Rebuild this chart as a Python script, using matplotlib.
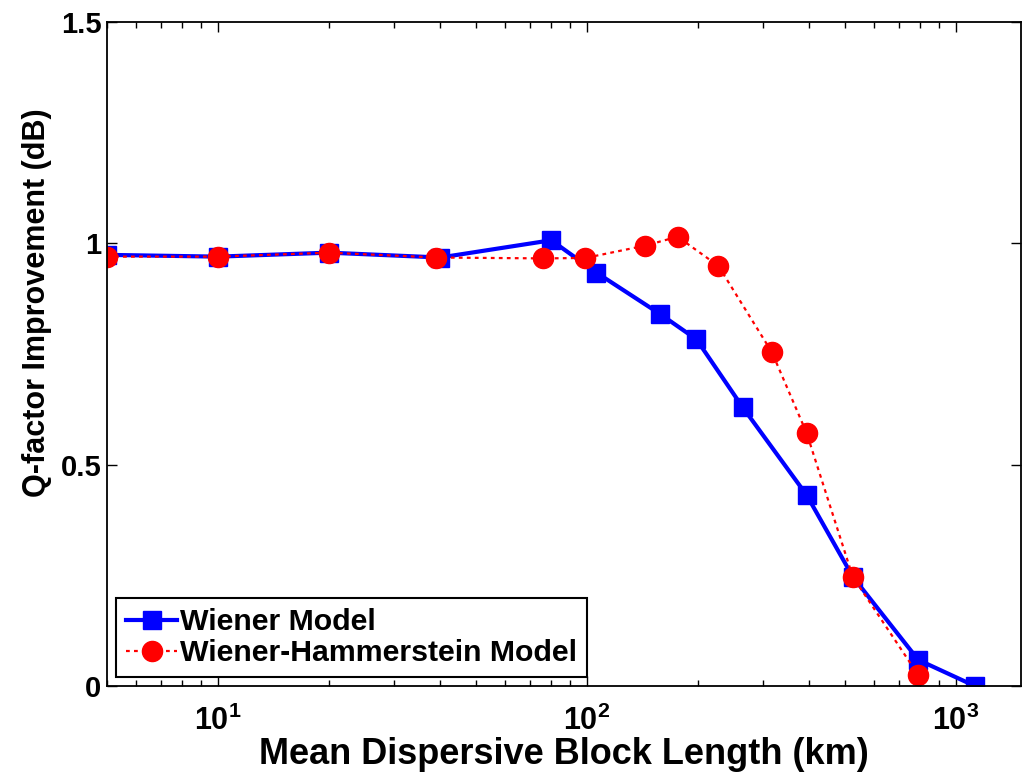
import matplotlib
matplotlib.use("Agg")
import matplotlib.pyplot as plt

plt.rcParams['font.family'] = ['Liberation Sans', 'DejaVu Sans']
plt.rcParams['font.weight'] = 'bold'
plt.rcParams['axes.labelweight'] = 'bold'
plt.rcParams['mathtext.fontset'] = 'custom'
plt.rcParams['mathtext.rm'] = 'Liberation Sans:bold'
plt.rcParams['mathtext.default'] = 'rm'

# Q-factor improvement vs. mean dispersive block length
wiener_len = [5, 10, 20, 40, 80, 106, 158, 198, 264, 394, 525, 790, 1125]
wiener_q = [0.974, 0.970, 0.979, 0.968, 1.007, 0.934, 0.840, 0.783, 0.630, 0.431, 0.247, 0.059, 0.0]

wh_len = [5, 10, 20, 39, 76, 99, 144, 176, 227, 317, 394, 525, 790]
wh_q = [0.970, 0.970, 0.979, 0.968, 0.966, 0.967, 0.995, 1.015, 0.949, 0.754, 0.571, 0.247, 0.025]

y_ticks = [0, 0.5, 1, 1.5]
y_ticklabels = ['0', '0.5', '1', '1.5']

fig = plt.figure(figsize=(10.23, 7.76), dpi=100)
ax = fig.add_axes([0.1046, 0.116, 0.8934, 0.8556])

ax.plot(wiener_len, wiener_q, color='blue', lw=3, marker='s', markersize=12.5,
        label='Wiener Model')
ax.plot(wh_len, wh_q, color='red', lw=1.6, linestyle=(0, (1.7, 1.9)), marker='o',
        markersize=14.5, label='Wiener-Hammerstein Model')

ax.set_xscale('log')
ax.set_xlim(5, 1500)
ax.set_ylim(0, 1.5)
ax.set_yticks(y_ticks)
ax.set_yticklabels(y_ticklabels)

ax.tick_params(which='both', direction='in', top=True, right=True, width=1)
ax.tick_params(which='major', length=7)
ax.tick_params(which='minor', length=4)
ax.tick_params(axis='y', pad=4, labelsize=21)
ax.tick_params(axis='x', pad=14, labelsize=22)
for s in ax.spines.values():
    s.set_linewidth(1.3)

ax.set_xlabel('Mean Dispersive Block Length (km)', fontsize=26, labelpad=0)
ax.set_ylabel('Q-factor Improvement (dB)', fontsize=22)
ax.yaxis.set_label_coords(-0.060, 0.577)

leg = ax.legend(loc='lower left', fontsize=21.8, fancybox=False, framealpha=1,
                edgecolor='black', handlelength=1.7, handletextpad=0.1,
                borderaxespad=0.3, labelspacing=0.1, borderpad=0.32)
leg.get_frame().set_linewidth(1.5)

fig.savefig('out.png', dpi=100)
